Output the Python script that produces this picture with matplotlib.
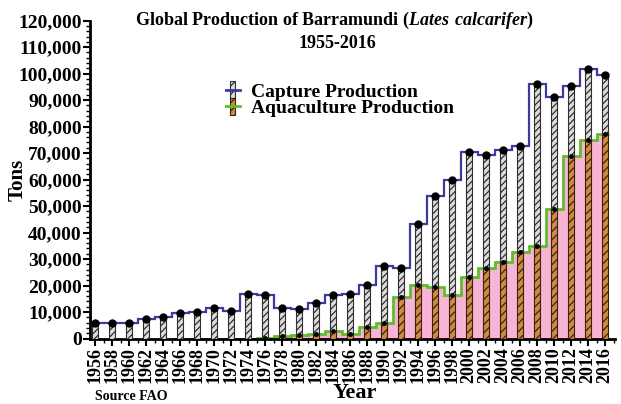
import numpy as np
import matplotlib
matplotlib.use("Agg")
import matplotlib.pyplot as plt
from matplotlib.patches import Rectangle
from matplotlib.lines import Line2D
from matplotlib.legend_handler import HandlerBase
from matplotlib.ticker import MultipleLocator, FuncFormatter

plt.rcParams['font.family'] = 'Liberation Serif'
plt.rcParams['font.weight'] = 'bold'
plt.rcParams['mathtext.fontset'] = 'custom'
plt.rcParams['mathtext.bfit'] = 'Liberation Serif:italic:bold'
plt.rcParams['hatch.linewidth'] = 0.9

# data (tons)
years = list(range(1956, 2017, 2))
total = [5800, 5800, 5700, 7500, 8100, 9700, 10000, 11600, 10300, 17000,
         16400, 11700, 11100, 13600, 16600, 17000, 20300, 27200, 26500, 43200,
         53800, 59800, 70300, 69300, 71000, 72500, 96000, 91200, 95500, 101800,
         99300]
aqua = [np.nan, np.nan, np.nan, np.nan, np.nan, 0, 0, 0, 0, 0,
        300, 1000, 1500, 1800, 3000, 1900, 4300, 6000, 15600, 20100,
        19500, 16600, 23200, 26800, 28900, 32600, 35100, 49000, 68800, 74800,
        77300]

yrs = np.array(years, dtype=float)
total = np.array(total, dtype=float)
aqua = np.array(aqua, dtype=float)
aqua0 = np.nan_to_num(aqua)
capture = total - aqua0

blue = '#3b3b9e'
green = '#5cbf2a'
pink = '#f8b4d4'
cap_face = '#dcdcdc'
cap_hatch = '#2e2e2e'
aq_face = '#cf8a44'
aq_hatch = '#3a220e'


class LegendKey:
    def __init__(self, face, hatch_col, line_col):
        self.face = face
        self.hatch_col = hatch_col
        self.line_col = line_col


class BarLineHandler(HandlerBase):
    def create_artists(self, legend, key, xdescent, ydescent, width, height, fontsize, trans):
        w = width * 0.35
        r = Rectangle((-xdescent + (width - w) / 2, -ydescent - height * 0.15), w, height * 1.3,
                      facecolor=key.face, edgecolor=key.hatch_col, hatch='////', lw=0.8,
                      transform=trans)
        l = Line2D([-xdescent, -xdescent + width], [-ydescent + height / 2] * 2,
                   color=key.line_col, lw=2, transform=trans)
        return [r, l]


fig = plt.figure(figsize=(6.21, 4.04), dpi=100)
ax = fig.add_axes([0.145, 0.162, 0.845, 0.787])

edges = np.append(yrs - 1, yrs[-1] + 1)
edges[-1] = yrs[-1] + 0.5
start = int(np.argmax(~np.isnan(aqua)))
ax.stairs(aqua[start:], edges[start:], fill=True, color=pink, zorder=1)
ax.stairs(aqua[start:], edges[start:], baseline=None, color=green, lw=2, zorder=2)
ax.stairs(total, edges, baseline=None, color=blue, lw=1.6, zorder=2)

bw = 0.75
ax.bar(yrs, aqua0, width=bw, facecolor=aq_face, edgecolor=aq_hatch, hatch='////',
       lw=0.8, zorder=3)
ax.bar(yrs, capture, width=bw, bottom=aqua0, facecolor=cap_face, edgecolor=cap_hatch,
       hatch='/////', lw=0.8, zorder=3)
ax.plot(yrs, total, 'o', color='black', ms=5, zorder=4)
mask = aqua0 > 0
ax.plot(yrs[mask], aqua0[mask], 'o', color='black', ms=2.5, zorder=4)

ax.set_xlim(1955.4, 2017.15)
ax.set_ylim(0, 120000)

ax.spines['top'].set_visible(False)
ax.spines['right'].set_visible(False)
for s in ['left', 'bottom']:
    ax.spines[s].set_linewidth(2)

ax.yaxis.set_major_locator(MultipleLocator(10000))
ax.yaxis.set_minor_locator(MultipleLocator(2000))
ax.yaxis.set_major_formatter(FuncFormatter(lambda v, p: f"{v:,.0f}"))
ax.xaxis.set_minor_locator(MultipleLocator(1))
ax.set_xticks(years)
ax.set_xticklabels([str(y) for y in years], rotation=90)
ax.tick_params(axis='both', which='major', direction='out', length=5, width=1.5, pad=1)
ax.tick_params(axis='both', which='minor', direction='out', length=3, width=1)
ax.tick_params(axis='y', labelsize=14)
ax.tick_params(axis='x', labelsize=13)

fig.text(0.538, 1 - 20 / 404,
         r"Global Production of Barramundi ($\mathbfit{Lates\ calcarifer}$)",
         ha='center', va='center', fontsize=13, fontweight='bold')
fig.text(0.544, 1 - 44 / 404, "1955-2016", ha='center', va='center', fontsize=13,
         fontweight='bold')
fig.text(18 / 621, 1 - 180 / 404, "Tons", rotation=90, ha='center', va='center',
         fontsize=15, fontweight='bold')
fig.text(355 / 621, 1 - 393 / 404, "Year", ha='center', va='center', fontsize=16,
         fontweight='bold')
fig.text(95 / 621, 1 - 397 / 404, "Source FAO", ha='left', va='center', fontsize=10,
         fontweight='bold')

keys = [LegendKey(cap_face, cap_hatch, blue), LegendKey(aq_face, aq_hatch, green)]
ax.legend(keys, ["Capture Production", "Aquaculture Production"],
          handler_map={LegendKey: BarLineHandler()},
          loc='upper left', bbox_to_anchor=(226 / 621, 1 - 83 / 404),
          bbox_transform=fig.transFigure, frameon=False,
          handlelength=0.7, handletextpad=0.6, labelspacing=-0.05,
          borderpad=0, borderaxespad=0, prop={'weight': 'bold', 'size': 14})

fig.savefig("out.png", dpi=100)
